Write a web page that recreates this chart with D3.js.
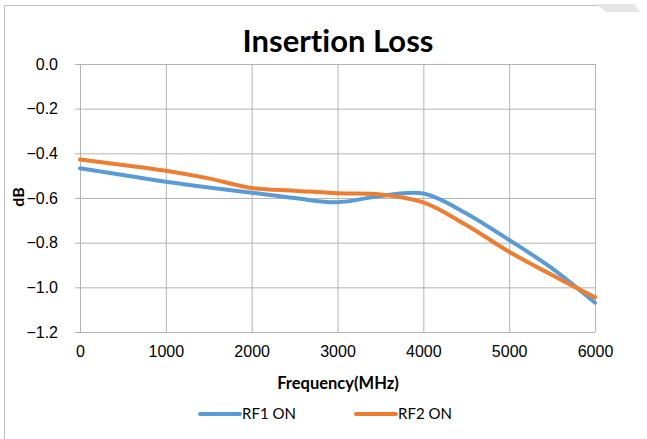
<!DOCTYPE html>
<html lang="en">
<head>
    <meta charset="UTF-8">
    <title>Insertion Loss</title>
    <script src="https://d3js.org/d3.v7.min.js"></script>
    <style>
        body { margin: 0; background: #ffffff; }
        svg { display: block; font-family: 'Lato', 'Open Sans', sans-serif; font-variant-ligatures: none; }
        .grid line { stroke: #b3b3b3; stroke-width: 1; }
        .tick text { fill: #000; font-size: 16px; }
    </style>
</head>
<body>
    <svg width="647" height="439"></svg>

    <script>
        // frequency points (MHz)
        const freqs = [0, 500, 1000, 1500, 2000, 2500, 3000, 3500, 4000, 4500, 5000, 5500, 6000];
        // insertion loss (dB)
        const rf1On = [-0.467, -0.497, -0.527, -0.553, -0.576, -0.600, -0.619, -0.591, -0.580, -0.669, -0.788, -0.915, -1.069];
        const rf2On = [-0.428, -0.452, -0.478, -0.512, -0.555, -0.567, -0.579, -0.584, -0.620, -0.721, -0.841, -0.945, -1.045];
        const xTicks = [0, 1000, 2000, 3000, 4000, 5000, 6000];
        const yTicks = [0, -0.2, -0.4, -0.6, -0.8, -1.0, -1.2];

        const series = [
            { name: "RF1 ON", values: rf1On, color: "#5b9bd5" },
            { name: "RF2 ON", values: rf2On, color: "#ed7d31" }
        ];

        const width = 647;
        const height = 439;
        const margin = { left: 80, right: 52, top: 64, bottom: 107 };

        const svg = d3.select("svg");

        // page frame (left + top edge only, like the scan)
        svg.append("path")
            .attr("d", `M4.5,${height} V5.5 H612`)
            .attr("fill", "none")
            .attr("stroke", "#bfbfbf");
        svg.append("path")
            .attr("d", "M596,4 L634,4 L640,12 L606,12 Z")
            .attr("fill", "#e6e6e6");

        const x = d3.scaleLinear()
            .domain([0, 6000])
            .range([margin.left, width - margin.right]);
        const y = d3.scaleLinear()
            .domain([-1.2, 0])
            .range([height - margin.bottom, margin.top]);

        // horizontal grid + y labels
        svg.append("g")
            .attr("class", "grid")
            .attr("transform", `translate(${margin.left},0)`)
            .call(d3.axisLeft(y)
                .tickValues(yTicks)
                .tickFormat(d3.format(".1f"))
                .tickSize(-(width - margin.left - margin.right))
                .tickPadding(22))
            .call(g => g.select(".domain").remove())
            .call(g => g.selectAll(".tick line").attr("x1", -5));

        // vertical grid + x labels
        svg.append("g")
            .attr("class", "grid")
            .attr("transform", `translate(0,${height - margin.bottom})`)
            .call(d3.axisBottom(x)
                .tickValues(xTicks)
                .tickFormat(d3.format("d"))
                .tickSize(-(height - margin.top - margin.bottom))
                .tickPadding(14))
            .call(g => g.select(".domain").remove());

        const line = d3.line()
            .x((d, i) => x(freqs[i]))
            .y(d => y(d))
            .curve(d3.curveCatmullRom.alpha(0.5));

        svg.selectAll(".series")
            .data(series)
            .enter()
            .append("path")
            .attr("class", "series")
            .attr("fill", "none")
            .attr("stroke", d => d.color)
            .attr("stroke-width", 4)
            .attr("stroke-linecap", "round")
            .attr("d", d => line(d.values));

        // title
        svg.append("text")
            .attr("x", 338)
            .attr("y", 52)
            .attr("text-anchor", "middle")
            .attr("font-size", 31)
            .attr("font-weight", "bold")
            .text("Insertion Loss");

        // axis titles
        svg.append("text")
            .attr("x", 338)
            .attr("y", 389)
            .attr("text-anchor", "middle")
            .attr("font-size", 16.5)
            .attr("font-weight", "bold")
            .text("Frequency(MHz)");

        svg.append("text")
            .attr("transform", "translate(24,197) rotate(-90)")
            .attr("text-anchor", "middle")
            .attr("font-size", 16)
            .attr("font-weight", "bold")
            .text("dB");

        // legend
        const legend = svg.selectAll(".legend")
            .data(series)
            .enter()
            .append("g")
            .attr("class", "legend")
            .attr("transform", (d, i) => `translate(${200 + i * 156},414)`);

        legend.append("line")
            .attr("x1", 0).attr("x2", 40)
            .attr("stroke", d => d.color)
            .attr("stroke-width", 4)
            .attr("stroke-linecap", "round");

        legend.append("text")
            .attr("x", 42)
            .attr("dy", "0.35em")
            .attr("font-size", 15)
            .text(d => d.name);
    </script>
</body>
</html>
